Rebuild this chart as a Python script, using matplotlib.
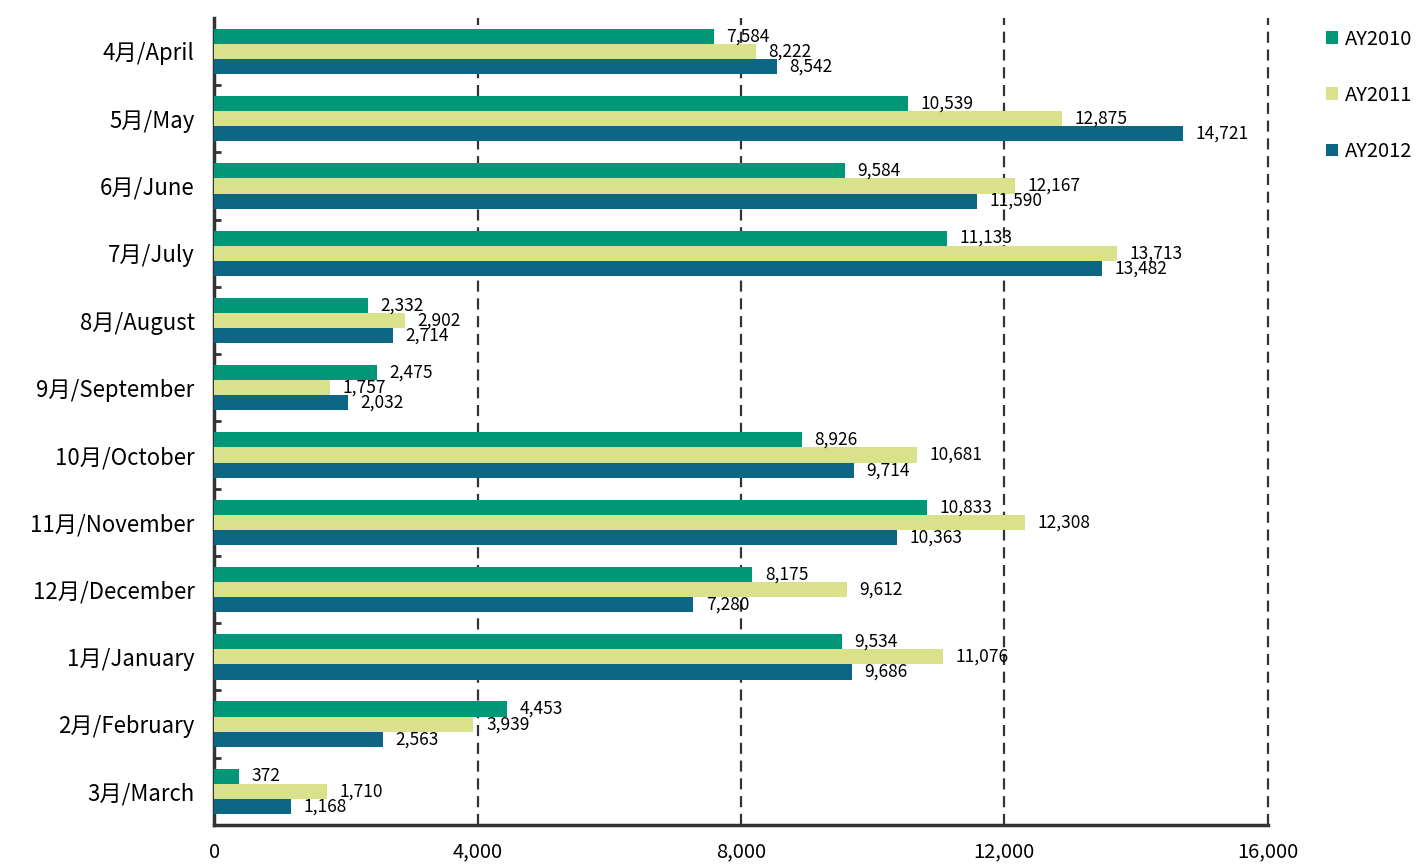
import matplotlib
matplotlib.use("Agg")
import matplotlib.pyplot as plt
import numpy as np

plt.rcParams["font.family"] = ["Noto Sans CJK JP", "DejaVu Sans"]

months = ["4月/April", "5月/May", "6月/June", "7月/July", "8月/August",
          "9月/September", "10月/October", "11月/November", "12月/December",
          "1月/January", "2月/February", "3月/March"]
series_names = ["AY2010", "AY2011", "AY2012"]
ay2010 = [7584, 10539, 9584, 11133, 2332, 2475, 8926, 10833, 8175, 9534, 4453, 372]
ay2011 = [8222, 12875, 12167, 13713, 2902, 1757, 10681, 12308, 9612, 11076, 3939, 1710]
ay2012 = [8542, 14721, 11590, 13482, 2714, 2032, 9714, 10363, 7280, 9686, 2563, 1168]
x_ticks = [0, 4000, 8000, 12000, 16000]

colors = ["#009778", "#d9e18b", "#0d6784"]
axis_color = "#333333"

fig = plt.figure(figsize=(14.18, 8.68), dpi=100)
ax = fig.add_axes([0.151, 0.0495, 0.743, 0.930])

y = np.arange(len(months))
bar_h = 0.225
for i, (name, vals, col) in enumerate(zip(series_names, [ay2010, ay2011, ay2012], colors)):
    pos = y + (i - 1) * bar_h
    bars = ax.barh(pos, vals, height=bar_h, color=col, label=name, zorder=3)
    for b, v in zip(bars, vals):
        ax.annotate(f"{v:,}", (v, b.get_y() + b.get_height() / 2),
                    xytext=(9, 0), textcoords="offset points",
                    ha="left", va="center", fontsize=12.5, zorder=4)

ax.set_ylim(len(months) - 0.5, -0.5)
ax.set_xlim(0, 16000)
ax.set_yticks(y)
ax.set_yticklabels(months, fontsize=16)
ax.set_yticks(np.arange(1, len(months) + 1) - 0.5, minor=True)
ax.tick_params(axis="y", which="major", length=0, pad=14)
ax.tick_params(axis="y", which="minor", length=5, width=2, direction="in", color=axis_color)

ax.set_xticks(x_ticks)
ax.set_xticklabels([f"{t:,}" for t in x_ticks], fontsize=14.5)
ax.tick_params(axis="x", length=0, pad=12)

for t in x_ticks[1:]:
    ax.axvline(t, color=axis_color, linestyle=(0, (5, 3)), linewidth=1.6,
               zorder=1, clip_on=False)

for s in ["top", "right"]:
    ax.spines[s].set_visible(False)
for s in ["left", "bottom"]:
    ax.spines[s].set_color(axis_color)
    ax.spines[s].set_linewidth(2.5)

handles, labels = ax.get_legend_handles_labels()
fig.legend(handles, labels, loc="upper left", bbox_to_anchor=(0.922, 0.988),
           frameon=False, fontsize=14.5, handlelength=0.6, handleheight=0.6,
           handletextpad=0.35, labelspacing=1.75)

fig.savefig("out.png", dpi=100)
